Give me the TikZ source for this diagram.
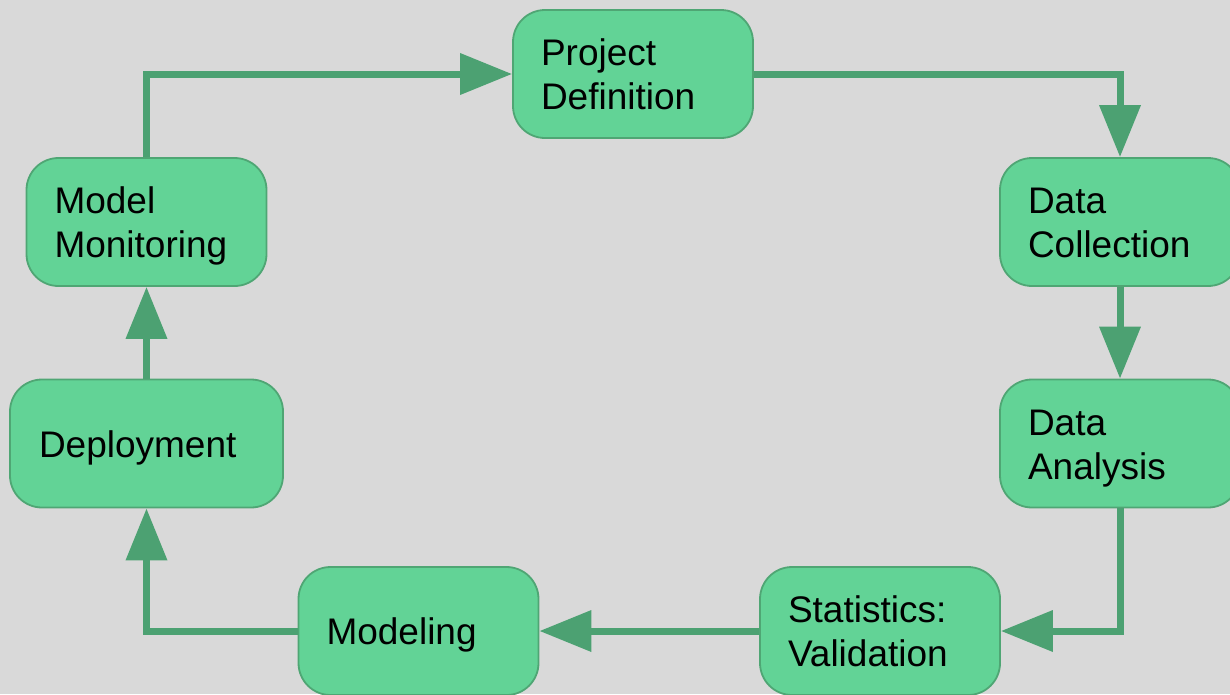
\documentclass[tikz,border=0pt]{standalone}
\usepackage{fontspec}
\setmainfont{Liberation Sans}
\usetikzlibrary{arrows.meta}
\definecolor{bgc}{HTML}{D9D9D9}
\definecolor{boxfill}{HTML}{62D396}
\definecolor{boxline}{HTML}{4FA674}
\definecolor{arrc}{HTML}{4CA172}
\begin{document}
\begin{tikzpicture}[x=1pt,y=1pt,
  stage/.style={draw=boxline, fill=boxfill, line width=1.8pt, rounded corners=32pt,
    minimum height=128pt, inner xsep=28pt, inner ysep=0pt, align=left,
    text height=27pt, text depth=44pt, font=\fontsize{37}{44}\selectfont},
  oneline/.style={text depth=0pt},
  flow/.style={draw=arrc, line width=7pt, -{Triangle[length=52pt,width=40pt]}}]
\fill[bgc] (0,0) rectangle (1230,-694);
\useasboundingbox (0,0) rectangle (1230,-694);
\node[stage, minimum width=240pt, text width=184pt] (pd) at (633,-74) {Project\\Definition};
\node[stage, minimum width=240pt, text width=184pt] (dc) at (1120,-222) {Data\\Collection};
\node[stage, minimum width=240pt, text width=184pt] (da) at (1120,-443.5) {Data\\Analysis};
\node[stage, minimum width=240pt, text width=184pt] (sv) at (880,-631) {Statistics:\\Validation};
\node[stage, oneline, minimum width=240pt, text width=184pt] (mo) at (418.5,-631) {Modeling};
\node[stage, oneline, minimum width=273pt, text width=215pt, inner xsep=29pt] (de) at (146.5,-443.5) {Deployment};
\node[stage, minimum width=240pt, text width=184pt] (mm) at (146.5,-222) {Model\\Monitoring};
\draw[flow] (mm.north) |- (pd.west);
\draw[flow] (pd.east) -| (dc.north);
\draw[flow] (dc.south) -- (da.north);
\draw[flow] (da.south) |- (sv.east);
\draw[flow] (sv.west) -- (mo.east);
\draw[flow] (mo.west) -| (de.south);
\draw[flow] (de.north) -- (mm.south);
\end{tikzpicture}
\end{document}
